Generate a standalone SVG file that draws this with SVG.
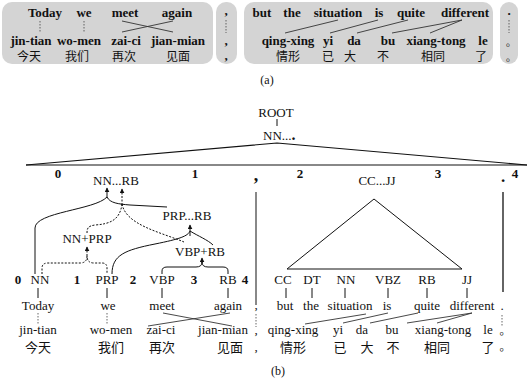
<svg xmlns="http://www.w3.org/2000/svg" width="529" height="379" viewBox="0 0 529 379" font-family="'Liberation Serif', 'DejaVu Serif', 'Times New Roman', serif">
<defs>
<marker id="ah" viewBox="0 0 8 8" refX="7" refY="4" markerWidth="5" markerHeight="5" orient="auto"><path d="M0,0 L8,4 L0,8 z" fill="#111"/></marker>
</defs>
<style>
.t{font-family:'Liberation Serif','DejaVu Serif','Times New Roman',serif;font-size:13px;fill:#111;text-anchor:middle}
.b{font-weight:bold}
.zh{font-family:'Noto Sans CJK SC','Noto Sans CJK JP',sans-serif;font-size:12px;fill:#111;text-anchor:middle}
.box{fill:#d4d4d4;stroke:none}
.ln{stroke:#111;stroke-width:1;fill:none}
.dl{stroke:#111;stroke-width:1;fill:none;stroke-dasharray:2,1.5}
.al{stroke:#333;stroke-width:0.9;fill:none}
.gd{stroke:#555;stroke-width:0.9;fill:none;stroke-dasharray:1.5,1.5}
.gl{stroke:#888;stroke-width:2;fill:none}
.ar{marker-end:url(#ah)}
</style>

<!-- ===== (a) ===== -->
<g id="a-box1">
<rect class="box" x="2" y="2" width="211" height="62" rx="10"/>
<g class="t b">
<text x="45" y="17">Today</text><text x="84" y="17">we</text><text x="125" y="17">meet</text><text x="177" y="17">again</text>
<text x="31" y="45">jin-tian</text><text x="79" y="45">wo-men</text><text x="126" y="45">zai-ci</text><text x="178" y="45">jian-mian</text>
</g>
<g class="zh"><text x="29" y="61">今天</text><text x="77" y="61">我们</text><text x="124" y="61">再次</text><text x="178" y="61">见面</text></g>
<path class="gd" d="M40,21V32M84,21V32"/>
<path class="al" d="M122,21L173,32M173,21L122,32"/>
</g>
<g id="a-box2">
<rect class="box" x="216" y="2" width="21" height="62" rx="10"/>
<g class="t b"><text x="226" y="15">,</text><text x="226" y="45">,</text><text x="226" y="60">,</text></g>
<path class="gd" d="M226,20V33"/>
</g>
<g id="a-box3">
<rect class="box" x="244" y="2" width="249" height="62" rx="10"/>
<g class="t b">
<text x="262" y="17">but</text><text x="292" y="17">the</text><text x="338" y="17">situation</text><text x="379" y="17">is</text><text x="411" y="17">quite</text><text x="465" y="17">different</text>
<text x="288" y="45">qing-xing</text><text x="328" y="45">yi</text><text x="354" y="45">da</text><text x="388" y="45">bu</text><text x="436" y="45">xiang-tong</text><text x="483" y="45">le</text>
</g>
<g class="zh"><text x="288" y="61">情形</text><text x="328" y="61">已</text><text x="350" y="61">大</text><text x="383" y="61">不</text><text x="433" y="61">相同</text><text x="481" y="61">了</text></g>
<path class="al" d="M338,20L285,33M378,20L330,33M408,20L357,33M462,20L392,33M462,20L430,33"/>
</g>
<g id="a-box4">
<rect class="box" x="500" y="2" width="18" height="62" rx="9"/>
<text class="t b" x="509" y="15">.</text>
<path class="gd" d="M509,20V33"/>
<g class="zh" style="font-size:10px"><text x="511" y="46">。</text><text x="511" y="61">。</text></g>
</g>
<text class="t" x="267" y="84" style="font-size:12px">(a)</text>

<!-- ===== (b) ===== -->
<g id="root">
<text class="t" x="276" y="117">ROOT</text>
<text class="t" x="263" y="140" style="text-anchor:start">NN...<tspan class="b" style="font-size:16px">.</tspan></text>
</g>
<g id="top-triangle">
<path class="gl" d="M26,165H527"/>
<path class="ln" d="M26,165L277,143L527,165" style="stroke-width:1.2"/>
<g class="t b">
<text x="58" y="178">0</text><text x="195" y="178">1</text><text x="300" y="178">2</text><text x="438" y="178">3</text><text x="515" y="178">4</text>
<text x="256" y="181" style="font-size:18px">,</text><text x="503" y="182" style="font-size:17px">.</text>
</g>
</g>

<g id="nn-rb"><text class="t" x="116" y="185">NN...RB</text></g>
<g id="prp-rb"><text class="t" x="187" y="220">PRP...RB</text></g>
<g id="nn-prp"><text class="t" x="87" y="243">NN+PRP</text></g>
<g id="vbp-rb"><text class="t" x="200" y="256">VBP+RB</text></g>

<g id="left-tags">
<g class="t b"><text x="18" y="284">0</text><text x="77" y="284">1</text><text x="133" y="284">2</text><text x="194" y="284">3</text><text x="245" y="284">4</text></g>
<g class="t"><text x="40" y="284">NN</text><text x="107" y="284">PRP</text><text x="162" y="284">VBP</text><text x="228" y="284">RB</text></g>
</g>
<g id="left-words">
<g class="t">
<text x="38" y="310">Today</text><text x="108" y="310">we</text><text x="162" y="310">meet</text><text x="228" y="310">again</text><text x="256" y="309">,</text>
<text x="38" y="334">jin-tian</text><text x="111" y="334">wo-men</text><text x="161" y="334">zai-ci</text><text x="223" y="334">jian-mian</text><text x="256" y="334">,</text>
<text x="256" y="351">,</text>
</g>
<g class="zh" style="font-size:13px"><text x="38" y="352">今天</text><text x="111" y="352">我们</text><text x="162" y="352">再次</text><text x="230" y="352">见面</text></g>
</g>

<g id="cc-jj">
<text class="t" x="377" y="185">CC...JJ</text>
<path class="gl" d="M287,269H462"/>
<path class="ln" d="M287,269L374,199L462,269"/>
</g>
<g id="right-tags" class="t">
<text x="283" y="284">CC</text><text x="312" y="284">DT</text><text x="346" y="284">NN</text><text x="388" y="284">VBZ</text><text x="427" y="284">RB</text><text x="467" y="284">JJ</text>
</g>
<g id="right-words">
<g class="t">
<text x="285" y="310">but</text><text x="311" y="310">the</text><text x="350" y="310">situation</text><text x="387" y="310">is</text><text x="427" y="310">quite</text><text x="472" y="310">different</text><text x="502" y="310">.</text>
<text x="293" y="334">qing-xing</text><text x="338" y="334">yi</text><text x="362" y="334">da</text><text x="392" y="334">bu</text><text x="443" y="334">xiang-tong</text><text x="488" y="334">le</text>
</g>
<g class="zh" style="font-size:13px"><text x="293" y="352">情形</text><text x="340" y="352">已</text><text x="367" y="352">大</text><text x="393" y="352">不</text><text x="437" y="352">相同</text><text x="488" y="352">了</text></g>
<g class="zh" style="font-size:11px"><text x="505" y="335">。</text><text x="505" y="351">。</text></g>
</g>
<text class="t" x="278" y="375" style="font-size:12px">(b)</text>

<g id="connectors">
<path class="ln" d="M277,119V126"/>
<path class="ln" d="M35,274V228C35,212 95,210 107,197"/>
<path class="ln" d="M107,197C110,203 118,204 130,205L167,207"/>
<path class="ln ar" d="M107,198V188"/>
<path class="dl" d="M122,204C120,220 110,224 95,225C88,226 87,228 87,233"/>
<path class="dl" d="M122,204C126,225 160,232 184,242"/>
<path class="dl ar" d="M122,205V189"/>
<path class="ln" d="M112,274C112,255 125,250 155,244C180,239 188,236 190,231"/>
<path class="ln" d="M190,231C198,236 208,240 213,245"/>
<path class="ln ar" d="M190,236V225"/>
<path class="dl" d="M42,274V268Q42,263 48,263L80,263Q87,263 87,256Q87,263 94,263L102,263Q107,263 107,268V274"/>
<path class="dl ar" d="M87,256V247"/>
<path class="ln" d="M162,274V271Q162,267 167,267L196,267Q202,267 202,262Q202,267 208,267L223,267Q228,267 228,271V274"/>
<path class="ln ar" d="M202,263V258"/>
<path class="ln" d="M38,288V298M107,288V298M162,288V298M228,288V298M286,288V298M312,288V298M345,288V298M388,288V298M427,288V298M467,288V298"/>
<path class="gd" d="M38,313V324M107,313V324M256,314V327M502,315V327"/>
<path class="al" d="M163,313L232,326M230,313L148,326"/>
<path class="al" d="M366,314L305,324M388,313L343,323M418,313L370,323M472,313L407,323M472,313L437,323"/>
<path class="gl" d="M256,192V305"/>
<path class="ln" d="M503,192V292" style="stroke-width:1.3"/>
</g>
</svg>
